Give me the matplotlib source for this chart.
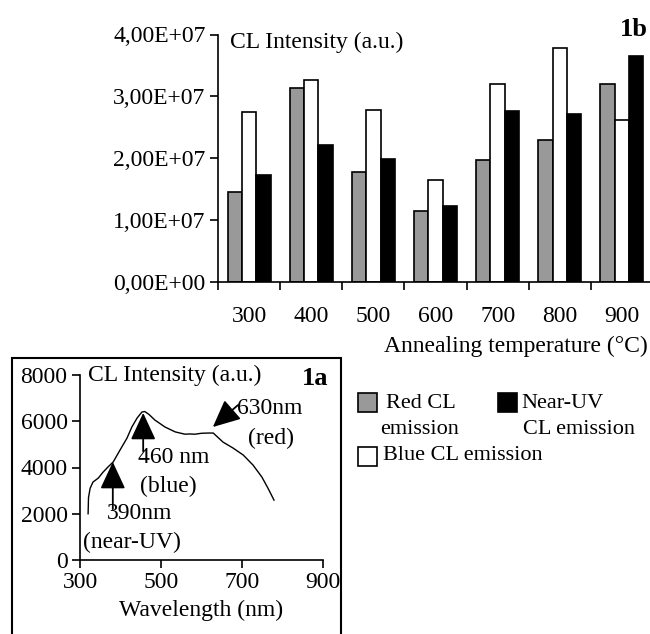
import numpy as np
import matplotlib
matplotlib.use("Agg")
import matplotlib.pyplot as plt
from matplotlib.patches import Rectangle
from matplotlib.ticker import FixedLocator, FuncFormatter

# ---------------- data ----------------
temperatures = ["300", "400", "500", "600", "700", "800", "900"]
red_cl = [1.46e7, 3.14e7, 1.78e7, 1.14e7, 1.97e7, 2.30e7, 3.20e7]
blue_cl = [2.75e7, 3.26e7, 2.78e7, 1.65e7, 3.20e7, 3.78e7, 2.62e7]
nuv_cl = [1.73e7, 2.21e7, 1.98e7, 1.23e7, 2.76e7, 2.72e7, 3.66e7]
top_yticks = [0, 1e7, 2e7, 3e7, 4e7]

wavelength = [320, 321, 325, 332, 345, 357, 369, 382, 399, 416, 428, 441, 453,
              460, 470, 485, 510, 535, 559, 570, 584, 600, 616, 629, 653, 678,
              703, 727, 749, 764, 779]
spectrum = [2000, 2700, 3100, 3370, 3540, 3800, 4020, 4240, 4760, 5270, 5750,
            6140, 6400, 6420, 6300, 6050, 5750, 5540, 5440, 5450, 5440, 5480,
            5490, 5490, 5100, 4840, 4540, 4110, 3590, 3110, 2590]
bottom_xticks = [300, 500, 700, 900]
bottom_yticks = [0, 2000, 4000, 6000, 8000]

W, H = 650, 634
plt.rcParams['font.family'] = ['Liberation Serif', 'DejaVu Serif']
FS = 17
LFS = 16

fig = plt.figure(figsize=(W / 100, H / 100), dpi=100)


def fx(x):
    return x / W


def fy(y):
    return 1 - y / H


# ---------------- top chart (1b) ----------------
ax1 = fig.add_axes([fx(218), fy(282), (653 - 218) / W, (282 - 34.5) / H])
n = len(temperatures)
x = np.arange(n)
bw = 0.23
ax1.bar(x - bw, red_cl, bw, color='#999999', edgecolor='black', linewidth=1.2)
ax1.bar(x, blue_cl, bw, color='white', edgecolor='black', linewidth=1.2)
ax1.bar(x + bw, nuv_cl, bw, color='black', edgecolor='black', linewidth=1.2)
ax1.set_xlim(-0.5, n - 0.5)
ax1.set_ylim(0, 4e7)
ax1.set_yticks(top_yticks)
ax1.yaxis.set_major_formatter(FuncFormatter(lambda v, p: f"{v:.2E}".replace('.', ',')))
ax1.xaxis.set_major_locator(FixedLocator(np.arange(n + 1) - 0.5))
ax1.xaxis.set_major_formatter(FuncFormatter(lambda v, p: ""))
ax1.xaxis.set_minor_locator(FixedLocator(x))
ax1.set_xticklabels(temperatures, minor=True)
ax1.tick_params(axis='x', which='major', direction='out', length=6, width=1.2)
ax1.tick_params(axis='x', which='minor', length=0, pad=17, labelsize=FS)
ax1.tick_params(axis='y', direction='out', length=6, width=1.2, labelsize=FS, pad=3)
for s in ['top', 'right']:
    ax1.spines[s].set_visible(False)
for s in ['left', 'bottom']:
    ax1.spines[s].set_linewidth(1.2)
ax1.text(fx(230), fy(42), "CL Intensity (a.u.)", transform=fig.transFigure,
         fontsize=FS, va='center', ha='left')
ax1.text(fx(648), fy(29), "1b", transform=fig.transFigure, fontsize=FS + 2,
         fontweight='bold', va='center', ha='right')
fig.text(fx(648), fy(346), "Annealing temperature (°C)", fontsize=FS,
         va='center', ha='right')

# ---------------- bottom chart (1a) ----------------
fig.patches.append(Rectangle((fx(12), fy(645)), (341 - 12) / W, (645 - 358) / H,
                             transform=fig.transFigure, fill=False,
                             edgecolor='black', linewidth=1.5))
ax2 = fig.add_axes([fx(80), fy(560), (323 - 80) / W, (560 - 375) / H])
ax2.plot(wavelength, spectrum, color='black', linewidth=1.0)
ax2.set_xlim(300, 900)
ax2.set_ylim(0, 8000)
ax2.set_xticks(bottom_xticks)
ax2.set_yticks(bottom_yticks)
ax2.tick_params(direction='out', length=6, width=1.2, labelsize=FS, pad=3)
for s in ['top', 'right']:
    ax2.spines[s].set_visible(False)
for s in ['left', 'bottom']:
    ax2.spines[s].set_linewidth(1.2)
fig.text(fx(201), fy(610), "Wavelength (nm)", fontsize=FS, va='center', ha='center')

ax2.text(320, 8000, "CL Intensity (a.u.)", fontsize=FS, va='center', ha='left',
         clip_on=False)
ax2.text(880, 7870, "1a", fontsize=FS + 2, fontweight='bold', va='center',
         ha='center', clip_on=False)

arrow = dict(arrowstyle='-|>,head_length=1.4,head_width=0.65', color='black',
             lw=1.3, mutation_scale=12, shrinkA=0, shrinkB=0)
ax2.annotate("", xy=(381, 4240), xytext=(381, 2200), arrowprops=arrow)
ax2.annotate("", xy=(456, 6360), xytext=(456, 4700), arrowprops=arrow)
ax2.annotate("", xy=(628, 5750), xytext=(690, 6700), arrowprops=arrow)

ax2.text(447, 2030, "390nm", fontsize=FS, ha='center', va='center')
ax2.text(428, 780, "(near-UV)", fontsize=FS, ha='center', va='center')
ax2.text(532, 4450, "460 nm", fontsize=FS, ha='center', va='center')
ax2.text(517, 3200, "(blue)", fontsize=FS, ha='center', va='center')
ax2.text(769, 6570, "630nm", fontsize=FS, ha='center', va='center')
ax2.text(772, 5275, "(red)", fontsize=FS, ha='center', va='center')

# ---------------- legend ----------------
sq = 19
for (lx, ly, col) in [(358, 393, '#999999'), (498, 393, 'black'), (358, 447, 'white')]:
    fig.patches.append(Rectangle((fx(lx), fy(ly + sq)), sq / W, sq / H,
                                 transform=fig.transFigure, facecolor=col,
                                 edgecolor='black', linewidth=1.2))
fig.text(fx(386), fy(403), "Red CL", fontsize=LFS, va='center', ha='left')
fig.text(fx(380), fy(430), "emission", fontsize=LFS, va='center', ha='left')
fig.text(fx(521), fy(403), "Near-UV", fontsize=LFS, va='center', ha='left')
fig.text(fx(523), fy(430), "CL emission", fontsize=LFS, va='center', ha='left')
fig.text(fx(383), fy(456), "Blue CL emission", fontsize=LFS, va='center', ha='left')

fig.savefig("out.png", dpi=100)
